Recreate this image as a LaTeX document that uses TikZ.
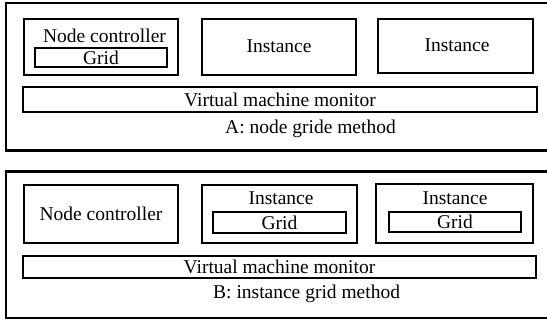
\documentclass[tikz,border=0pt]{standalone}
\usepackage{fontspec}
\setmainfont{Liberation Serif}
\begin{document}
\begin{tikzpicture}[x=1pt,y=-1pt,
  box/.style={draw=black,line width=2.8pt,rectangle,inner sep=0pt,outer sep=0pt},
  txt/.style={inner sep=0pt,font=\fontsize{19.5}{23}\selectfont},
  frame/.style={draw=black,line width=2.8pt}]
\useasboundingbox (0,0) rectangle (547,320);
% ---------- A ----------
\draw[frame] (548,3) -- (6,3) -- (6,150.5) -- (548,150.5);
\node[box,minimum width=154,minimum height=56] (ncA) at (101,47) {};
\node[txt] (ncAt) at (104.5,36) {Node controller};
\node[box,minimum width=132,minimum height=19] (gA) at (101,57.5) {};
\node[txt] (gAt) at (101,57.5) {Grid};
\node[box,minimum width=154,minimum height=56] (iA1) at (279,47) {};
\node[txt] (iA1t) at (279,46) {Instance};
\node[box,minimum width=155,minimum height=54] (iA2) at (455.5,46) {};
\node[txt] (iA2t) at (457,45) {Instance};
\node[box,minimum width=514,minimum height=25] (vA) at (280,99.5) {};
\node[txt] (vAt) at (280,99.5) {Virtual machine monitor};
\node[txt,anchor=west] (lA) at (225,129) {A: node gride method};
% ---------- B ----------
\draw[frame] (548,171.5) -- (6,171.5) -- (6,318) -- (548,318);
\node[box,minimum width=154,minimum height=58] (ncB) at (101,214) {};
\node[txt] (ncBt) at (101,214) {Node controller};
\node[box,minimum width=155,minimum height=58] (iB1) at (279.5,214) {};
\node[txt] (iB1t) at (281,198.5) {Instance};
\node[box,minimum width=133,minimum height=21] (gB1) at (279.5,222.5) {};
\node[txt] (gB1t) at (279.5,222.5) {Grid};
\node[box,minimum width=157,minimum height=59] (iB2) at (454.5,213.5) {};
\node[txt] (iB2t) at (455,198) {Instance};
\node[box,minimum width=132,minimum height=20] (gB2) at (455,222) {};
\node[txt] (gB2t) at (455,222) {Grid};
\node[box,minimum width=513,minimum height=22] (vB) at (279.5,267) {};
\node[txt] (vBt) at (279.5,267) {Virtual machine monitor};
\node[txt,anchor=west] (lB) at (213,294) {B: instance grid method};
\end{tikzpicture}
\end{document}
